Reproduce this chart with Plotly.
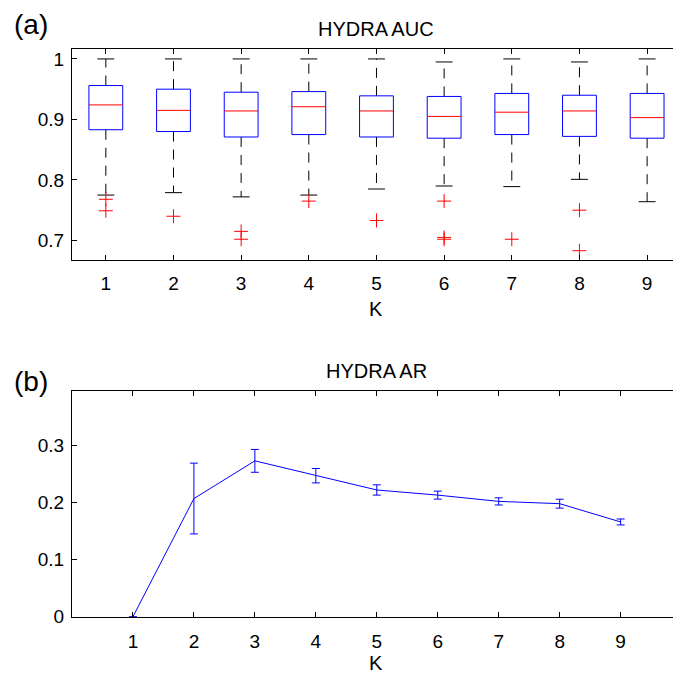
import plotly.graph_objects as go

# ---------------- data ----------------
K = [1, 2, 3, 4, 5, 6, 7, 8, 9]

# HYDRA AUC box statistics
auc_q1 = [0.883, 0.880, 0.871, 0.875, 0.871, 0.869, 0.875, 0.872, 0.869]
auc_median = [0.924, 0.915, 0.914, 0.921, 0.914, 0.905, 0.912, 0.914, 0.903]
auc_q3 = [0.956, 0.950, 0.945, 0.946, 0.939, 0.938, 0.943, 0.940, 0.943]
auc_lower = [0.775, 0.779, 0.772, 0.775, 0.785, 0.790, 0.789, 0.801, 0.764]
auc_upper = [1.000, 1.000, 1.000, 1.000, 1.000, 0.995, 1.000, 0.995, 1.000]
outlier_k = [1, 1, 2, 3, 3, 4, 5, 6, 6, 6, 7, 8, 8]
outlier_v = [0.768, 0.749, 0.740, 0.715, 0.702, 0.765, 0.733, 0.765, 0.705, 0.702, 0.702, 0.750, 0.683]

# HYDRA AR mean and error
ar_mean = [0.0, 0.207, 0.273, 0.247, 0.222, 0.213, 0.202, 0.198, 0.166]
ar_err = [0.0, 0.062, 0.020, 0.0126, 0.009, 0.007, 0.0063, 0.0078, 0.0052]

x_ticks = [1, 2, 3, 4, 5, 6, 7, 8, 9]
auc_yticks = [0.7, 0.8, 0.9, 1.0]
auc_yticklabels = ["0.7", "0.8", "0.9", "1"]
ar_yticks = [0, 0.1, 0.2, 0.3]
ar_yticklabels = ["0", "0.1", "0.2", "0.3"]

# ---------------- layout helpers ----------------
W, H = 673, 684
ML = 72
BOX_HALF = 0.25
CAP_HALF = 0.125


def px_x(p):
    return (p - ML) / (W - ML)


def px_y(p):
    return (H - p) / H


BLUE = "rgb(0,0,255)"
RED = "rgb(255,0,0)"
FONT = "Liberation Sans, Arial, Helvetica, sans-serif"

fig = go.Figure()

# whiskers (dashed black)
wx, wy = [], []
for k, lo, q1, q3, hi in zip(K, auc_lower, auc_q1, auc_q3, auc_upper):
    wx += [k, k, None, k, k, None]
    wy += [q3, hi, None, q1, lo, None]
fig.add_trace(go.Scatter(x=wx, y=wy, mode="lines", xaxis="x", yaxis="y",
                         line=dict(color="black", width=1, dash="10px,8px"),
                         hoverinfo="skip", showlegend=False))
# whisker caps
cx, cy = [], []
for k, lo, hi in zip(K, auc_lower, auc_upper):
    cx += [k - CAP_HALF, k + CAP_HALF, None, k - CAP_HALF, k + CAP_HALF, None]
    cy += [hi, hi, None, lo, lo, None]
fig.add_trace(go.Scatter(x=cx, y=cy, mode="lines", xaxis="x", yaxis="y",
                         line=dict(color="black", width=1),
                         hoverinfo="skip", showlegend=False))
# boxes (blue rectangles)
bx, by = [], []
for k, q1, q3 in zip(K, auc_q1, auc_q3):
    bx += [k - BOX_HALF, k + BOX_HALF, k + BOX_HALF, k - BOX_HALF, k - BOX_HALF, None]
    by += [q1, q1, q3, q3, q1, None]
fig.add_trace(go.Scatter(x=bx, y=by, mode="lines", xaxis="x", yaxis="y",
                         line=dict(color=BLUE, width=1),
                         hoverinfo="skip", showlegend=False))
# medians (red)
mx, my = [], []
for k, m in zip(K, auc_median):
    mx += [k - BOX_HALF, k + BOX_HALF, None]
    my += [m, m, None]
fig.add_trace(go.Scatter(x=mx, y=my, mode="lines", xaxis="x", yaxis="y",
                         line=dict(color=RED, width=1),
                         hoverinfo="skip", showlegend=False))
# outliers
fig.add_trace(go.Scatter(x=outlier_k, y=outlier_v, mode="markers", xaxis="x", yaxis="y",
                         marker=dict(symbol="cross-thin-open", size=10, color=RED,
                                     line=dict(color=RED, width=1)),
                         hoverinfo="skip", showlegend=False))

# HYDRA AR line with error bars
fig.add_trace(go.Scatter(x=K, y=ar_mean, mode="lines", xaxis="x2", yaxis="y2",
                         line=dict(color=BLUE, width=1),
                         error_y=dict(type="data", array=ar_err, visible=True,
                                      color=BLUE, thickness=1, width=4),
                         showlegend=False))

axis_common = dict(showline=True, linecolor="black", linewidth=1,
                   ticks="inside", ticklen=5, tickwidth=1, tickcolor="black",
                   showgrid=False, zeroline=False,
                   tickfont=dict(family=FONT, size=19, color="black"))

top_dom = [px_y(263.3), px_y(49.3)]
bot_dom = [px_y(626.7), px_y(397.3)]

fig.update_layout(
    width=W, height=H,
    margin=dict(l=ML, r=0, t=0, b=0),
    paper_bgcolor="white", plot_bgcolor="white",
    showlegend=False,
    xaxis=dict(domain=[0, 1], range=[0.5, 0.5 + (W - ML) / 67.66],
               tickvals=x_ticks, mirror="ticks", anchor="y",
               ticklabelstandoff=7, **axis_common),
    yaxis=dict(domain=top_dom, range=[0.6682, 1.0157],
               tickvals=auc_yticks, ticktext=auc_yticklabels,
               mirror=False, anchor="x", ticklabelstandoff=3, **axis_common),
    xaxis2=dict(domain=[0, 1], range=[0, (W - ML) / 60.96],
                tickvals=x_ticks, mirror="ticks", anchor="y2",
                ticklabelstandoff=7, **axis_common),
    yaxis2=dict(domain=bot_dom, range=[0, 0.3948],
                tickvals=ar_yticks, ticktext=ar_yticklabels,
                mirror=False, anchor="x2", ticklabelstandoff=3, **axis_common),
)

annots = [
    dict(text="(a)", x=px_x(31), y=px_y(24), size=28),
    dict(text="(b)", x=px_x(31), y=px_y(387), size=28),
    dict(text="HYDRA AUC", x=px_x(376), y=px_y(29), size=20),
    dict(text="HYDRA AR", x=px_x(376), y=px_y(377), size=20),
    dict(text="K", x=px_x(376), y=px_y(313), size=20),
    dict(text="K", x=px_x(376), y=px_y(674), size=20),
]
for a in annots:
    fig.add_annotation(text=a["text"], x=a["x"], y=a["y"], xref="paper", yref="paper",
                       xanchor="center", yanchor="middle", showarrow=False,
                       font=dict(family=FONT, size=a["size"], color="black"))

fig.write_html("out.html")
